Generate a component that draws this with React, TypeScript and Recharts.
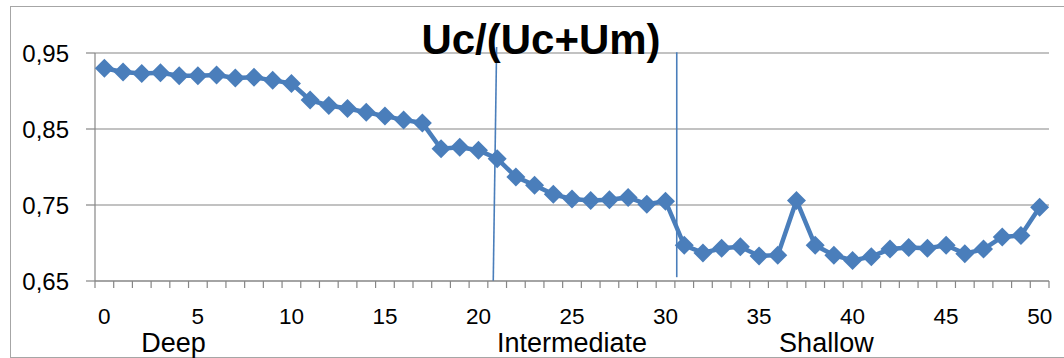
import React from 'react';
import { LineChart, Line, XAxis, YAxis, CartesianGrid, ReferenceLine } from 'recharts';

const categories = [
  0, 1, 2, 3, 4, 5, 6, 7, 8, 9, 10, 11, 12, 13, 14, 15, 16, 17, 18, 19, 20, 21, 22, 23, 24, 25,
  26, 27, 28, 29, 30, 31, 32, 33, 34, 35, 36, 37, 38, 39, 40, 41, 42, 43, 44, 45, 46, 47, 48, 49, 50,
];

const values = [
  0.930, 0.925, 0.923, 0.924, 0.920, 0.920, 0.921, 0.917, 0.918, 0.914,
  0.910, 0.888, 0.881, 0.877, 0.872, 0.867, 0.862, 0.858, 0.824, 0.826,
  0.822, 0.811, 0.787, 0.776, 0.764, 0.758, 0.756, 0.757, 0.760, 0.751,
  0.755, 0.697, 0.687, 0.693, 0.695, 0.683, 0.684, 0.756, 0.697, 0.684,
  0.677, 0.682, 0.692, 0.694, 0.693, 0.697, 0.686, 0.692, 0.708, 0.710,
  0.747,
];

const xTickLabels = [0, 5, 10, 15, 20, 25, 30, 35, 40, 45, 50];
const yTicks = [0.65, 0.75, 0.85, 0.95];

const zoneLabels = ['Deep', 'Intermediate', 'Shallow'];
const zoneCenters = [3.7, 25, 38.6];

const dividers = [
  { x1: 20.97, y1: 0.958, x2: 20.79, y2: 0.65 },
  { x1: 30.6, y1: 0.951, x2: 30.6, y2: 0.655 },
];

const title = 'Uc/(Uc+Um)';

const data = categories.map((c, i) => ({ x: c, v: values[i] }));
const boundaryTicks = categories.map((c) => c - 0.5).concat([categories[categories.length - 1] + 0.5]);
const xDomain = [boundaryTicks[0], boundaryTicks[boundaryTicks.length - 1]];

const BLUE = '#4A7EBB';
const GRID = '#868686';
const FONT = '"Liberation Sans", Arial, sans-serif';

const Diamond = (props: any) => {
  const { cx, cy, index } = props;
  if (cx == null || cy == null) return <g key={`e-${index}`} />;
  const r = 9.5;
  return (
    <path
      key={`d-${index}`}
      d={`M${cx},${cy - r}L${cx + r},${cy}L${cx},${cy + r}L${cx - r},${cy}Z`}
      fill={BLUE}
      stroke="none"
    />
  );
};

export default function App() {
  return (
    <div
      style={{
        position: 'absolute',
        left: 0,
        top: 0,
        width: 1064,
        height: 358,
        overflow: 'hidden',
        background: '#fff',
        fontFamily: FONT,
      }}
    >
      <div
        style={{
          position: 'absolute',
          left: 10,
          top: 6,
          width: 1100,
          height: 350,
          border: '1.5px solid #a6a6a6',
        }}
      />
      <div style={{ position: 'absolute', left: 0, top: 0 }}>
        <LineChart
          width={1064}
          height={358}
          data={data}
          margin={{ top: 53, right: 15, bottom: 74, left: 0 }}
        >
          <CartesianGrid
            xAxisId="nums"
            yAxisId="y"
            vertical={false}
            stroke={GRID}
            strokeWidth={1.2}
          />
          <XAxis
            xAxisId="marks"
            dataKey="x"
            type="number"
            domain={xDomain}
            ticks={boundaryTicks}
            interval={0}
            height={1}
            tickSize={7}
            tickFormatter={() => ''}
            stroke={GRID}
            axisLine={{ stroke: GRID, strokeWidth: 1.2 }}
            tickLine={{ stroke: GRID, strokeWidth: 1.2 }}
          />
          <XAxis
            xAxisId="nums"
            dataKey="x"
            type="number"
            domain={xDomain}
            ticks={xTickLabels}
            interval={0}
            height={1}
            tickSize={0}
            tickMargin={26}
            axisLine={false}
            tickLine={false}
            fontSize={22.5}
            tick={{ fill: '#000', fontSize: 22.5, fontFamily: FONT }}
          />
          <XAxis
            xAxisId="zones"
            dataKey="x"
            type="number"
            domain={xDomain}
            ticks={zoneCenters}
            interval={0}
            height={1}
            tickSize={0}
            tickMargin={50}
            axisLine={false}
            tickLine={false}
            fontSize={27}
            tickFormatter={(v: number) => zoneLabels[zoneCenters.indexOf(v)] ?? ''}
            tick={{ fill: '#000', fontSize: 27, fontFamily: FONT }}
          />
          <YAxis
            yAxisId="y"
            type="number"
            domain={[yTicks[0], yTicks[yTicks.length - 1]]}
            ticks={yTicks}
            interval={0}
            width={95}
            tickSize={9}
            tickMargin={17}
            fontSize={24}
            tickFormatter={(v: number) => v.toFixed(2).replace('.', ',')}
            axisLine={{ stroke: GRID, strokeWidth: 1.2 }}
            tickLine={{ stroke: GRID, strokeWidth: 1.2 }}
            tick={{ fill: '#000', fontSize: 24, fontFamily: FONT }}
          />
          {dividers.map((d, i) => (
            <ReferenceLine
              key={`div-${i}`}
              xAxisId="nums"
              yAxisId="y"
              ifOverflow="visible"
              segment={[
                { x: d.x1, y: d.y1 },
                { x: d.x2, y: d.y2 },
              ]}
              stroke={BLUE}
              strokeWidth={1.6}
            />
          ))}
          <Line
            xAxisId="nums"
            yAxisId="y"
            dataKey="v"
            type="linear"
            stroke={BLUE}
            strokeWidth={4.5}
            dot={Diamond}
            activeDot={false}
            isAnimationActive={false}
          />
        </LineChart>
      </div>
      <div
        style={{
          position: 'absolute',
          left: 541,
          top: 19,
          transform: 'translateX(-50%)',
          fontFamily: FONT,
          fontWeight: 'bold',
          fontSize: 42,
          lineHeight: '42px',
          whiteSpace: 'nowrap',
          color: '#000',
        }}
      >
        {title}
      </div>
    </div>
  );
}
